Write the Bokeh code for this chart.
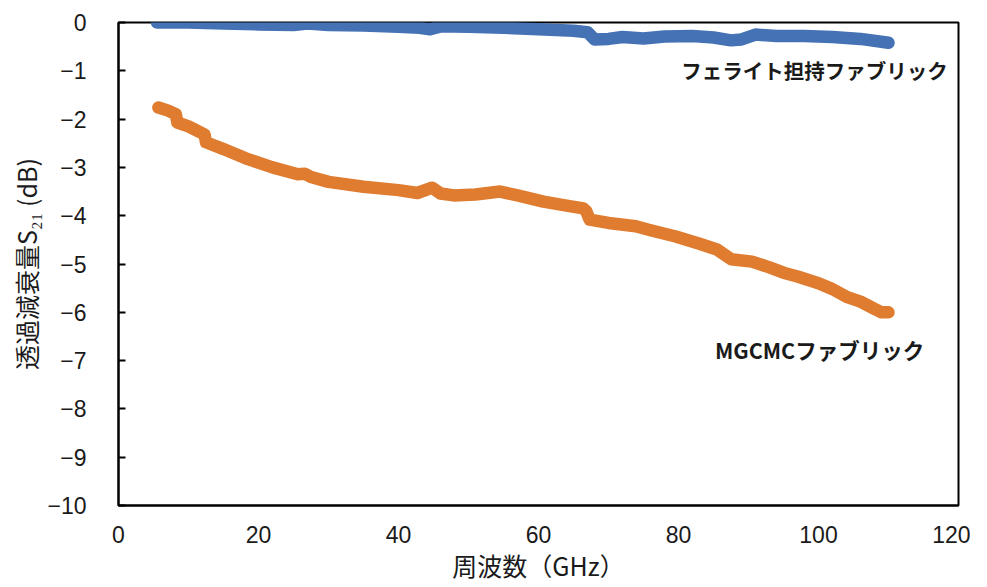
from bokeh.plotting import figure
from bokeh.models import Range1d, FixedTicker, ColumnDataSource
from bokeh.core.properties import value
from bokeh.embed import file_html
from bokeh.resources import INLINE

# Ferrite-loaded fabric (blue)
ferrite_x = [5.5, 10, 15, 20, 25, 27, 30, 35, 40, 43, 44.5, 46, 50, 55, 60, 65, 67, 68,
             70, 72, 75, 78, 82, 85, 87.5, 89, 91, 94, 98, 102, 106, 110]
ferrite_y = [0.0, 0.0, -0.02, -0.04, -0.05, -0.02, -0.05, -0.06, -0.09, -0.11, -0.14, -0.08,
             -0.09, -0.11, -0.14, -0.17, -0.2, -0.35, -0.34, -0.3, -0.33, -0.29, -0.28, -0.31,
             -0.37, -0.35, -0.25, -0.28, -0.28, -0.3, -0.34, -0.42]

# MGCMC fabric (orange)
mgcmc_x = [5.7, 7, 8.2, 8.4, 10, 12.3, 12.5, 15, 18.5, 22, 25.6, 26.6, 27.5, 30, 35, 40,
           42.7, 44.8, 46, 47.9, 51, 54.5, 57, 60.7, 64, 66.4, 66.8, 67.3, 70, 73.9, 76,
           79.6, 83, 85.5, 87.5, 90.5, 93, 95, 97, 100, 102, 104, 106, 108, 109, 110]
mgcmc_y = [-1.76, -1.82, -1.9, -2.07, -2.15, -2.32, -2.48, -2.62, -2.83, -3.0, -3.14, -3.13,
           -3.2, -3.3, -3.4, -3.47, -3.53, -3.42, -3.54, -3.58, -3.56, -3.5, -3.58, -3.71,
           -3.79, -3.85, -3.9, -4.08, -4.15, -4.22, -4.3, -4.43, -4.58, -4.7, -4.9, -4.95,
           -5.07, -5.18, -5.26, -5.4, -5.52, -5.68, -5.78, -5.93, -6.0, -6.0]

# Tick labels
x_ticks = [0, 20, 40, 60, 80, 100, 120]
y_ticks = [0, -1, -2, -3, -4, -5, -6, -7, -8, -9, -10]
y_tick_labels = ["0", "−1", "−2", "−3", "−4", "−5", "−6", "−7", "−8", "−9", "−10"]

# Annotations
label_text = ["フェライト担持ファブリック", "MGCMCファブリック"]
label_x = [80.4, 85.2]
label_y = [-0.98, -6.76]
label_size = ["20.5px", "21.5px"]

p = figure(width=970, height=585, output_backend="svg", toolbar_location=None,
           x_range=Range1d(0, 120), y_range=Range1d(-10, 0),
           min_border_left=118, min_border_right=12, min_border_top=22, min_border_bottom=70)

p.xgrid.visible = False
p.ygrid.visible = False
p.outline_line_color = "black"
p.outline_line_width = 2
p.background_fill_color = "white"
p.border_fill_color = "white"

p.line(mgcmc_x, mgcmc_y, line_color="#E07C30", line_width=12.5,
       line_cap="round", line_join="round")
p.line(ferrite_x, ferrite_y, line_color="#4472B4", line_width=12.5,
       line_cap="round", line_join="round")

src = ColumnDataSource(dict(x=label_x, y=label_y, t=label_text, s=label_size))
p.text(x="x", y="y", text="t", source=src, text_font=value("Noto Sans CJK JP"),
       text_font_size="s", text_font_style="bold", text_color="#1a1a1a",
       text_align="left", text_baseline="middle")

for ax in (p.xaxis[0], p.yaxis[0]):
    ax.axis_line_color = "black"
    ax.axis_line_width = 2
    ax.major_label_text_font = "Liberation Sans"
    ax.major_label_text_font_size = "23px"
    ax.major_label_text_color = "#1a1a1a"
    ax.minor_tick_line_color = None
    ax.axis_label_text_font = "Noto Sans CJK JP"
    ax.axis_label_text_font_size = "25px"
    ax.axis_label_text_font_style = "normal"
    ax.axis_label_text_color = "#1a1a1a"

p.xaxis.ticker = FixedTicker(ticks=x_ticks)
p.xaxis.major_tick_in = 0
p.xaxis.major_tick_out = 0
p.xaxis.major_label_standoff = 20
p.xaxis.axis_label = "周波数（GHz）"
p.xaxis.axis_label_standoff = 1

p.yaxis.ticker = FixedTicker(ticks=y_ticks)
p.yaxis.major_label_overrides = {t: s for t, s in zip(y_ticks, y_tick_labels)}
p.yaxis.major_tick_in = 7
p.yaxis.major_tick_out = 0
p.yaxis.major_tick_line_color = "black"
p.yaxis.major_tick_line_width = 2
p.yaxis.major_label_standoff = 32
p.yaxis.axis_label = "透過減衰量S₂₁ (dB)"
p.yaxis.axis_label_standoff = 0

open("out.html", "w").write(file_html(p, INLINE))
